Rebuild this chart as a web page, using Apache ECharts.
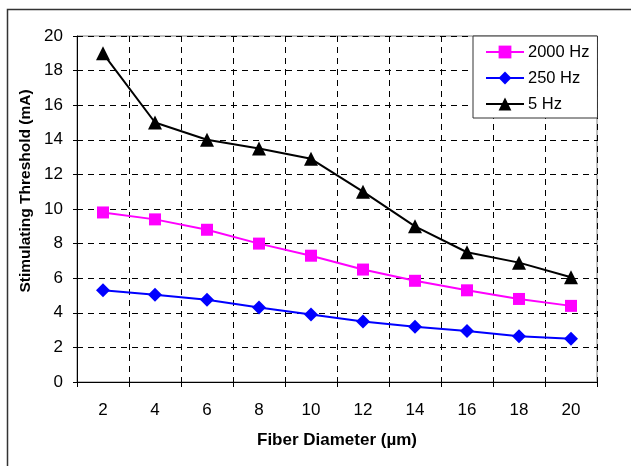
<!DOCTYPE html>
<html>
<head>
<meta charset="utf-8">
<script src="https://cdn.jsdelivr.net/npm/echarts@6/dist/echarts.min.js"></script>
<style>
  html, body { margin: 0; padding: 0; background: #fff; }
  #chart { width: 631px; height: 466px; }
</style>
</head>
<body>
<div id="chart"></div>
<script>
const diameters = ['2', '4', '6', '8', '10', '12', '14', '16', '18', '20']
const hz2000 = [9.8, 9.4, 8.8, 8.0, 7.3, 6.5, 5.85, 5.3, 4.8, 4.4]
const hz250 = [5.3, 5.05, 4.75, 4.3, 3.9, 3.5, 3.2, 2.95, 2.65, 2.5]
const hz5 = [19, 15, 14, 13.5, 12.9, 11, 9, 7.5, 6.9, 6.05]
const yTicks = [0, 2, 4, 6, 8, 10, 12, 14, 16, 18, 20]

const font = '"Liberation Sans", Arial, sans-serif'
const chart = echarts.init(document.getElementById('chart'))

const mkSeries = (name, data, color, symbol, size) => ({
  name,
  type: 'line',
  data,
  symbol,
  symbolSize: size,
  showSymbol: true,
  lineStyle: { color, width: 2 },
  itemStyle: { color, borderWidth: 0 },
  emphasis: { disabled: true },
})

chart.setOption({
  animation: false,
  textStyle: { fontFamily: font },
  graphic: [
    {
      type: 'rect',
      shape: { x: 7.5, y: 9.5, width: 700, height: 500 },
      style: { fill: 'none', stroke: '#333', lineWidth: 1.5 },
      z: -10,
    },
    {
      // y axis title, Excel puts it a bit above the plot centre
      type: 'text',
      x: 26,
      y: 191,
      rotation: Math.PI / 2,
      style: {
        text: 'Stimulating Threshold (mA)',
        font: 'bold 15.5px ' + font,
        fill: '#000',
        textAlign: 'center',
        textVerticalAlign: 'middle',
      },
    },
  ],
  grid: {
    left: 77,
    top: 36,
    width: 520,
    height: 346,
    show: true,
    borderColor: '#808080',
    borderWidth: 1,
    backgroundColor: 'transparent',
  },
  legend: {
    orient: 'vertical',
    left: 473,
    top: 36,
    padding: [6, 8, 4, 12],
    itemGap: 6,
    itemWidth: 38,
    itemHeight: 16,
    borderColor: '#333',
    borderWidth: 1,
    backgroundColor: '#fff',
    textStyle: { fontSize: 16.5, color: '#000', fontFamily: font, lineHeight: 20, padding: [0, 0, 0, -1] },
    data: ['2000 Hz', '250 Hz', '5 Hz'],
  },
  xAxis: {
    type: 'category',
    data: diameters,
    boundaryGap: true,
    name: 'Fiber Diameter (µm)',
    nameLocation: 'middle',
    nameGap: 50,
    nameTextStyle: { fontSize: 17, fontWeight: 'bold', color: '#000', fontFamily: font },
    axisLine: { lineStyle: { color: '#000', width: 1 } },
    axisTick: { show: true, length: 5, lineStyle: { color: '#000' } },
    axisLabel: { fontSize: 17, color: '#000', margin: 20, fontFamily: font },
    splitLine: { show: true, lineStyle: { color: '#000', type: [6, 5], width: 1 } },
  },
  yAxis: {
    type: 'value',
    min: yTicks[0],
    max: yTicks[yTicks.length - 1],
    interval: 2,
    axisLine: { show: true, lineStyle: { color: '#000', width: 1 } },
    axisTick: { show: true, length: 4, lineStyle: { color: '#000' } },
    axisLabel: { fontSize: 17, color: '#000', margin: 14, fontFamily: font },
    splitLine: { show: true, lineStyle: { color: '#000', type: [6, 5], width: 1 } },
  },
  series: [
    mkSeries('2000 Hz', hz2000, '#FF00FF', 'rect', 12),
    mkSeries('250 Hz', hz250, '#0000FF', 'diamond', 14),
    mkSeries('5 Hz', hz5, '#000000', 'triangle', 14),
  ],
})
</script>
</body>
</html>
